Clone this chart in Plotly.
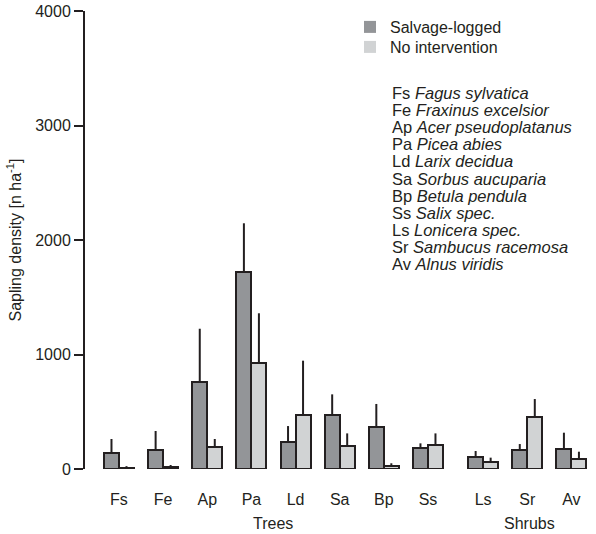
import plotly.graph_objects as go

# Species codes and their positions along the x axis (shrubs set apart from trees)
codes = ["Fs", "Fe", "Ap", "Pa", "Ld", "Sa", "Bp", "Ss", "Ls", "Sr", "Av"]
positions = [0, 1, 2, 3, 4, 5, 6, 7, 8.25, 9.25, 10.25]
species = [
    "Fagus sylvatica", "Fraxinus excelsior", "Acer pseudoplatanus",
    "Picea abies", "Larix decidua", "Sorbus aucuparia", "Betula pendula",
    "Salix spec.", "Lonicera spec.", "Sambucus racemosa", "Alnus viridis",
]

# Mean sapling density [n/ha] and upper error (standard error)
salvage_mean = [140, 166, 762, 1723, 233, 474, 367, 186, 108, 163, 175]
salvage_err = [122, 166, 463, 423, 142, 178, 201, 38, 49, 55, 142]
nointer_mean = [10, 17, 190, 923, 474, 204, 29, 210, 58, 454, 87]
nointer_err = [15, 18, 72, 437, 472, 107, 21, 101, 41, 157, 64]

y_ticks = [0, 1000, 2000, 3000, 4000]

DARK = "#231f20"
C_SALV = "#939598"
C_NONE = "#d1d3d4"
FONT = "Liberation Sans, Arial, sans-serif"
FS = 16

W, H = 596, 534
ML, MR, MT, MB = 85, 3, 11, 65
PX_PER_UNIT = 44.14
x0 = -0.77
x1 = x0 + (W - ML - MR) / PX_PER_UNIT
BW = 0.34

fig = go.Figure()

fig.add_trace(go.Bar(
    x=positions, y=salvage_mean, width=BW, offset=-BW,
    marker=dict(color=C_SALV, line=dict(color=DARK, width=2)),
    error_y=dict(type="data", array=salvage_err, arrayminus=[0] * len(codes),
                 symmetric=False, color=DARK, thickness=2, width=0),
    showlegend=False, name="Salvage-logged",
))
fig.add_trace(go.Bar(
    x=positions, y=nointer_mean, width=BW, offset=0,
    marker=dict(color=C_NONE, line=dict(color=DARK, width=2)),
    error_y=dict(type="data", array=nointer_err, arrayminus=[0] * len(codes),
                 symmetric=False, color=DARK, thickness=2, width=0),
    showlegend=False, name="No intervention",
))

pw = W - ML - MR
ph = H - MT - MB


def px_x(px):
    return (px - ML) / pw


def px_y(py):
    return (H - MB - py) / ph


TEXT_X = 390

# Legend swatches without outlines, one legend box per entry
legend_boxes = {}
for i, (name, col) in enumerate([("Salvage-logged", C_SALV),
                                  ("No intervention", C_NONE)]):
    key = "legend" if i == 0 else f"legend{i + 1}"
    fig.add_trace(go.Scatter(
        x=[None], y=[None], mode="markers", name=name, legend=key,
        marker=dict(symbol="square", size=12, color=col),
    ))
    legend_boxes[key] = dict(
        x=px_x(TEXT_X - 40), y=px_y(27 + 20 * i), xanchor="left",
        yanchor="middle", bgcolor="rgba(0,0,0,0)",
        font=dict(size=FS, color=DARK), itemclick=False,
        borderwidth=0,
    )

annotations = []
for i, (c, s) in enumerate(zip(codes, species)):
    annotations.append(dict(
        x=px_x(TEXT_X), y=px_y(93 + 17.1 * i), xref="paper", yref="paper",
        xanchor="left", yanchor="middle", showarrow=False,
        text=f"{c} <i>{s}</i>", font=dict(size=16.5, color=DARK, family=FONT),
    ))

for label, xc in [("Trees", 3.5), ("Shrubs", 9.3)]:
    annotations.append(dict(
        x=xc, y=px_y(523), xref="x", yref="paper", xanchor="center",
        yanchor="middle", showarrow=False, text=label,
        font=dict(size=FS, color=DARK, family=FONT),
    ))

fig.update_layout(
    width=W, height=H,
    margin=dict(l=ML, r=MR, t=MT, b=MB),
    plot_bgcolor="white", paper_bgcolor="white",
    font=dict(family=FONT, size=FS, color=DARK),
    bargap=0,
    annotations=annotations,
    xaxis=dict(
        range=[x0, x1], tickmode="array", tickvals=positions, ticktext=codes,
        showline=False, showgrid=False, zeroline=False,
        ticks="outside", ticklen=16, tickcolor="rgba(0,0,0,0)",
        tickfont=dict(size=FS, color=DARK),
    ),
    yaxis=dict(
        range=[0, 4000], tickmode="array", tickvals=y_ticks,
        showline=True, linecolor=DARK, linewidth=2,
        ticks="outside", ticklen=9, tickwidth=2, tickcolor=DARK,
        showgrid=False, zeroline=False,
        tickfont=dict(size=FS, color=DARK),
        title=dict(text="Sapling density [n ha<sup>-1</sup>]", standoff=10,
                   font=dict(size=FS, color=DARK)),
    ),
    **legend_boxes,
)

fig.write_html("out.html")
